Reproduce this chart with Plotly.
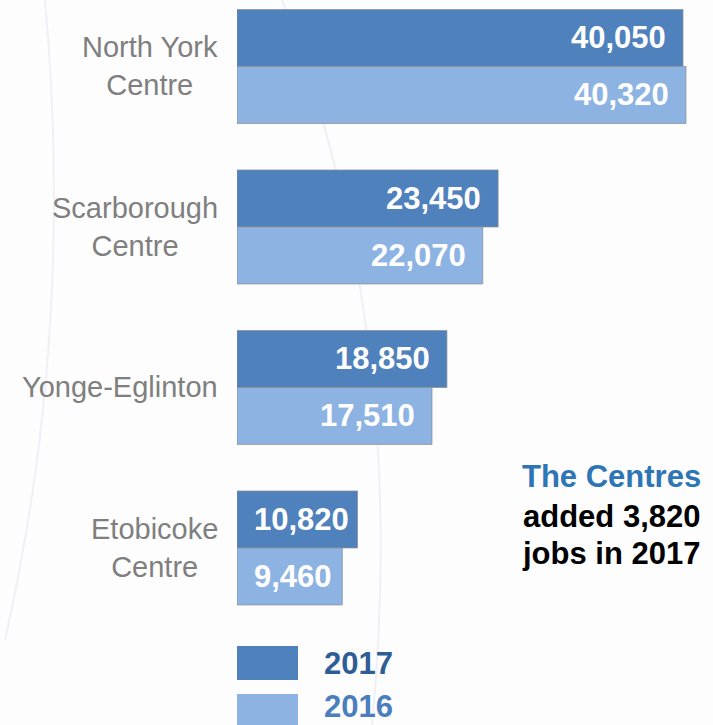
import plotly.graph_objects as go

categories = ["North York<br>Centre", "Scarborough<br>Centre", "Yonge-Eglinton", "Etobicoke<br>Centre"]
values_2017 = [40050, 23450, 18850, 10820]
values_2016 = [40320, 22070, 17510, 9460]
series_names = ["2017", "2016"]
note_lines = ["The Centres", "added 3,820", "jobs in 2017"]

W, H = 713, 725
C17 = "#4F81BD"
C16 = "#8DB3E2"
FONT = "Liberation Sans, Arial, sans-serif"

x0_px = 237
xmax = 40050 * (W - x0_px) / 446.0
px_per_unit = (W - x0_px) / xmax

fig = go.Figure()
for name, vals, col in [(series_names[0], values_2017, C17), (series_names[1], values_2016, C16)]:
    fig.add_trace(go.Bar(
        y=categories, x=vals, name=name, orientation="h",
        marker=dict(color=col, line=dict(color="rgba(140,140,140,0.7)", width=1)),
        hoverinfo="x+y",
    ))

annotations = []
# category labels (centered multi-line, right edge ~19px left of bars)
for cat in categories:
    annotations.append(dict(x=0, y=cat, xref="x", yref="y", text=cat, align="center",
                            xanchor="right", yanchor="middle", xshift=-17, showarrow=False,
                            font=dict(family=FONT, size=29, color="#7F7F7F")))

for vals, ysh in [(values_2017, 28.5), (values_2016, -28.5)]:
    for cat, v in zip(categories, vals):
        w = v * px_per_unit
        if w - 17 - 97 < 17:
            annotations.append(dict(x=0, y=cat, xref="x", yref="y", text=f"{v:,}",
                                    xanchor="left", xshift=15, yshift=ysh, showarrow=False,
                                    font=dict(family=FONT, size=31, color="white", weight="bold")))
        else:
            annotations.append(dict(x=v, y=cat, xref="x", yref="y", text=f"{v:,}",
                                    xanchor="right", xshift=-15, yshift=ysh, showarrow=False,
                                    font=dict(family=FONT, size=31, color="white", weight="bold")))

note_colors = ["#2E75B6", "#000000", "#000000"]
note_y = [477, 516, 553]
for t, c, yy in zip(note_lines, note_colors, note_y):
    annotations.append(dict(x=611 / W, y=1 - yy / H, xref="paper", yref="paper", text=t,
                            xanchor="center", yanchor="middle", showarrow=False,
                            font=dict(family=FONT, size=31, color=c, weight="bold")))

# custom legend
shapes = []
leg = [(series_names[0], C17, "#2F5E96", 646, 680, 663), (series_names[1], C16, "#4A7EBD", 694, 728, 706)]
for name, col, tcol, ya, yb, yc in leg:
    shapes.append(dict(type="rect", xref="paper", yref="paper",
                       x0=237 / W, x1=298 / W, y0=1 - yb / H, y1=1 - ya / H,
                       fillcolor=col, line=dict(width=0), layer="above"))
    annotations.append(dict(x=322 / W, y=1 - yc / H, xref="paper", yref="paper", text=name,
                            xanchor="left", yanchor="middle", showarrow=False,
                            font=dict(family=FONT, size=31, color=tcol, weight="bold")))

# faint decorative arcs
shapes.append(dict(type="path", xref="paper", yref="paper", layer="below",
                   path=f"M {45/W} 1 Q {75/W} {1-330/H} {5/W} {1-640/H}",
                   line=dict(color="#EEF0F5", width=2)))
shapes.append(dict(type="path", xref="paper", yref="paper", layer="below",
                   path=f"M {282/W} 1 Q {410/W} {1-330/H} {372/W} {1-725/H}",
                   line=dict(color="#EEF0F5", width=2)))

fig.update_layout(
    width=W, height=H,
    margin=dict(l=0, r=0, t=0, b=0),
    paper_bgcolor="#FDFDFD", plot_bgcolor="rgba(0,0,0,0)",
    barmode="group", bargap=0.29, bargroupgap=0,
    showlegend=False,
    xaxis=dict(domain=[x0_px / W, 1], range=[0, xmax], visible=False, fixedrange=True),
    yaxis=dict(range=[4.103, -0.414], automargin=False, showgrid=False, zeroline=False,
               showline=False, showticklabels=False, fixedrange=True),
    annotations=annotations, shapes=shapes,
)

fig.write_html("out.html", config={"displayModeBar": False},
               post_script="document.body.style.margin='0';document.body.style.overflow='hidden';")
